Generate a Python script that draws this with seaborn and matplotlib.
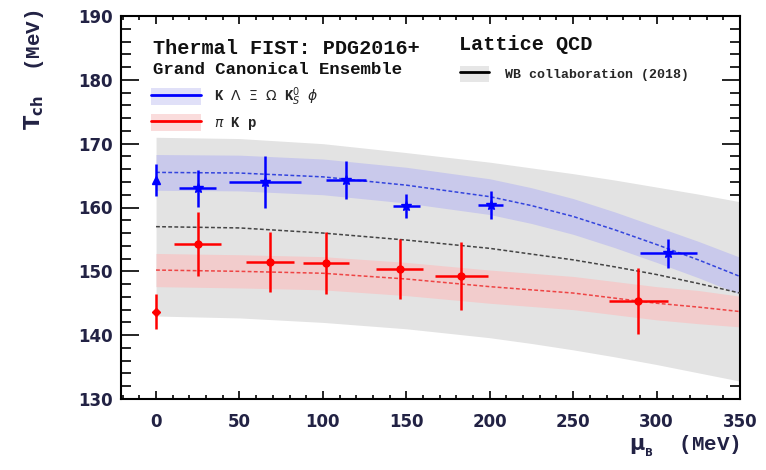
import numpy as np
import pandas as pd
import matplotlib
matplotlib.use("Agg")
import matplotlib.pyplot as plt
from matplotlib.patches import Patch
from matplotlib.lines import Line2D
from matplotlib.ticker import MultipleLocator
import seaborn as sns

# ---------------- data ----------------
mu_grid = [0, 50, 100, 150, 200, 225, 250, 275, 300, 325, 350]

lat_center = [157.0, 156.8, 156.0, 154.9, 153.6, 152.7, 151.8, 150.7, 149.5, 148.1, 146.6]
lat_upper = [171.0, 170.8, 170.0, 168.6, 167.1, 166.2, 165.3, 164.3, 163.2, 162.1, 160.9]
lat_lower = [143.0, 142.7, 142.0, 141.0, 139.6, 138.7, 137.7, 136.6, 135.4, 134.1, 132.8]

strange_center = [165.5, 165.4, 164.8, 163.5, 161.7, 160.3, 158.6, 156.5, 154.2, 151.8, 149.2]
strange_upper = [168.3, 168.2, 167.6, 166.3, 164.5, 163.1, 161.4, 159.3, 157.0, 154.7, 152.2]
strange_lower = [162.7, 162.6, 162.0, 160.7, 158.9, 157.5, 155.8, 153.7, 151.4, 149.0, 146.4]

light_center = [150.2, 150.0, 149.7, 148.8, 147.6, 147.1, 146.6, 145.8, 145.0, 144.4, 143.7]
light_upper = [152.8, 152.6, 152.3, 151.4, 150.2, 149.7, 149.2, 148.4, 147.6, 147.0, 146.1]
light_lower = [147.6, 147.4, 147.1, 146.2, 145.0, 144.5, 144.0, 143.2, 142.4, 141.8, 141.3]

blue_mu = [0, 25, 65.5, 114, 150, 200.5, 307]
blue_mu_err = [0, 11, 21.5, 12, 8, 7.5, 17]
blue_T = [164.3, 163.0, 164.0, 164.3, 160.2, 160.4, 152.8]
blue_T_err = [2.5, 2.9, 4.0, 3.0, 1.9, 2.2, 2.3]

red_mu = [0, 25, 68.5, 102, 146, 183, 289]
red_mu_err = [0, 14, 14.4, 13.7, 14.3, 16, 17.8]
red_T = [143.7, 154.3, 151.5, 151.3, 150.4, 149.3, 145.4]
red_T_err = [2.8, 5.0, 4.7, 4.9, 4.7, 5.3, 5.2]

x_ticks = [0, 50, 100, 150, 200, 250, 300, 350]
y_ticks = [130, 140, 150, 160, 170, 180, 190]

# ---------------- style ----------------
sns.set_theme(style="ticks")
plt.rcParams['font.family'] = ['DejaVu Sans']
mono = 'Liberation Mono'

fig = plt.figure(figsize=(7.66, 4.70), dpi=100)
ax = fig.add_axes([121/766, 1-399/470, 619/766, 383/470])

gray_fc = '#e3e3e3'
blue_fc = '#c9c9eb'
red_fc = '#f2cccc'

ax.fill_between(mu_grid, lat_lower, lat_upper, color=gray_fc, lw=0, zorder=1)
ax.fill_between(mu_grid, strange_lower, strange_upper, color=blue_fc, lw=0, zorder=2)
ax.fill_between(mu_grid, light_lower, light_upper, color=red_fc, lw=0, zorder=2)

n = len(mu_grid)
df = pd.DataFrame({
    'mu': mu_grid * 3,
    'T': lat_center + strange_center + light_center,
    'set': ['lat'] * n + ['str'] * n + ['lig'] * n,
})
for name, col in [('lat', '#444444'), ('str', '#3344dd'), ('lig', '#ee4444')]:
    sub = df[df['set'] == name]
    sns.lineplot(data=sub, x='mu', y='T', ax=ax, color=col, lw=1.1,
                 linestyle=(0, (2.5, 1.5)), zorder=3, legend=False)

# data points
ax.errorbar(blue_mu[1:], blue_T[1:], xerr=blue_mu_err[1:], yerr=blue_T_err[1:],
            fmt='*', color='#0000ff', ms=7, elinewidth=1.8, capsize=0, zorder=5)
ax.errorbar(blue_mu[:1], blue_T[:1], yerr=blue_T_err[:1],
            fmt='^', color='#0000ff', ms=6, elinewidth=1.8, capsize=0, zorder=5)
ax.errorbar(red_mu[1:], red_T[1:], xerr=red_mu_err[1:], yerr=red_T_err[1:],
            fmt='o', color='#ff0000', ms=5, elinewidth=1.8, capsize=0, zorder=5)
ax.errorbar(red_mu[:1], red_T[:1], yerr=red_T_err[:1],
            fmt='D', color='#ff0000', ms=4.5, elinewidth=1.8, capsize=0, zorder=5)

# axes
ax.set_xlim(-21, 350)
ax.set_ylim(130, 190)
ax.set_xticks(x_ticks)
ax.set_yticks(y_ticks)
ax.xaxis.set_minor_locator(MultipleLocator(10))
ax.yaxis.set_minor_locator(MultipleLocator(2))
ax.tick_params(axis='both', which='both', direction='in', top=True, right=True,
               colors='black', width=1.2)
ax.tick_params(axis='y', which='major', length=13, labelsize=12, pad=6)
ax.tick_params(axis='y', which='minor', length=7)
ax.tick_params(axis='x', which='major', length=6, labelsize=12, pad=10)
ax.tick_params(axis='x', which='minor', length=3)
for lab in ax.get_xticklabels() + ax.get_yticklabels():
    lab.set_fontweight('bold')
    lab.set_color('#222244')
for s in ax.spines.values():
    s.set_linewidth(1.5)
    s.set_color('black')

ax.set_xlabel(r'$\mathbf{\mu_{_B}}$  (MeV)', family=mono, fontweight='bold',
              fontsize=15, loc='right', color='#222244')
ax.xaxis.set_label_coords(1.0, (399 - 434) / 383)
ax.set_ylabel(r'$\mathbf{T_{ch}}$  (MeV)', family=mono, fontweight='bold',
              fontsize=15, loc='top', color='#222244')
ax.yaxis.set_label_coords((46 - 121) / 619, (399 - 10) / 383)

# annotations
def ax_xy(px, py):
    return (px - 121) / 619, (399 - py) / 383

ax.text(*ax_xy(153, 48), 'Thermal FIST: PDG2016+', transform=ax.transAxes,
        family=mono, fontweight='bold', fontsize=14.5, va='center', ha='left', color='#111111')
ax.text(*ax_xy(153, 70), 'Grand Canonical Ensemble', transform=ax.transAxes,
        family=mono, fontweight='bold', fontsize=12.5, va='center', ha='left', color='#111111')
ax.text(*ax_xy(459, 45), 'Lattice QCD', transform=ax.transAxes,
        family=mono, fontweight='bold', fontsize=14.5, va='center', ha='left', color='#111111')

h_blue = (Patch(facecolor='#e0e0f8', edgecolor='none'), Line2D([], [], color='#0000ff', lw=2))
h_red = (Patch(facecolor='#fadcdc', edgecolor='none'), Line2D([], [], color='#ff0000', lw=2))
h_lat = (Patch(facecolor='#e6e6e6', edgecolor='none'), Line2D([], [], color='black', lw=2))

leg1 = ax.legend([h_blue, h_red],
                 [r'K $\Lambda$ $\Xi$ $\Omega$ K$^0_S$ $\phi$', r'$\pi$ K p'],
                 loc='upper left', bbox_to_anchor=ax_xy(145, 80), frameon=False,
                 handlelength=3.6, handleheight=1.5, labelspacing=0.45, handletextpad=1.0,
                 prop={'family': mono, 'weight': 'bold', 'size': 10}, borderaxespad=0)
ax.add_artist(leg1)
leg2 = ax.legend([h_lat], ['WB collaboration (2018)'],
                 loc='upper left', bbox_to_anchor=ax_xy(455, 61), frameon=False,
                 handlelength=2.2, handleheight=1.4, handletextpad=1.2,
                 prop={'family': mono, 'weight': 'bold', 'size': 9.5}, borderaxespad=0)

fig.savefig('out.png', dpi=100)
